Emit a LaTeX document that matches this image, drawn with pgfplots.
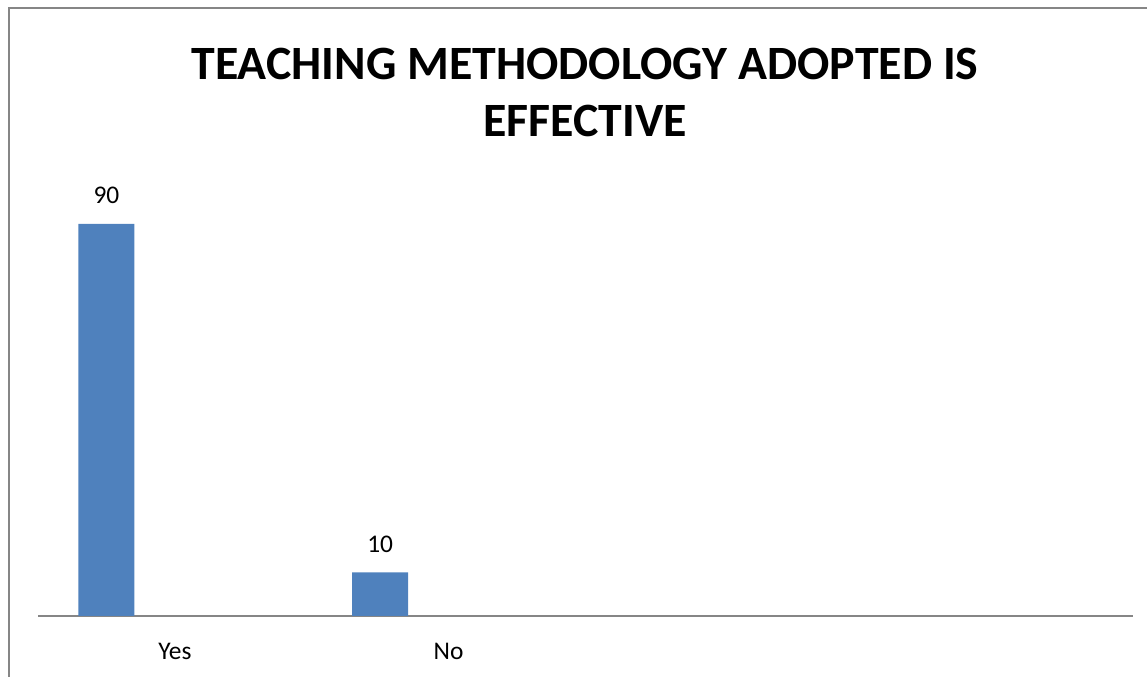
\documentclass[border=0pt]{standalone}
\usepackage{pgfplots}
\pgfplotsset{compat=1.18}
\usepackage{fontspec}
\setmainfont{Carlito}
\definecolor{barblue}{HTML}{4F81BD}
\definecolor{framegray}{HTML}{868686}
\begin{document}
\begin{tikzpicture}[x=1bp,y=1bp]
% page extent and chart frame
\path[use as bounding box] (-38,-61) rectangle (1109,616);
\draw[framegray,line width=2bp] (-29.5,-62) -- (-29.5,607.5) -- (1110,607.5);
% title
\node[align=center,font=\fontsize{48}{57}\selectfont\bfseries] at (547,523.5)
  {TEACHING METHODOLOGY ADOPTED IS\\EFFECTIVE};
\begin{axis}[
  at={(0,0)}, anchor=origin,
  scale only axis,
  width=1095bp, height=435.6bp,
  xmin=0, xmax=4, ymin=0, ymax=100,
  axis x line*=bottom, axis y line=none,
  x axis line style={framegray,line width=1.2bp,-},
  xtick={0.5,1.5}, xticklabels={Yes,No},
  major tick length=0pt,
  xticklabel style={anchor=base,yshift=-44bp,font=\fontsize{25.5}{28}\selectfont},
  ybar, bar width=56bp, bar shift=0pt,
  clip=false,
  /pgf/number format/assume math mode=true,
  nodes near coords,
  every node near coord/.append style={anchor=base,yshift=20bp,inner sep=0pt,
    font=\fontsize{25.5}{28}\selectfont,text=black},
]
\addplot[fill=barblue,draw=none] coordinates {(0.25,90) (1.25,10)};
\end{axis}
\end{tikzpicture}
\end{document}
